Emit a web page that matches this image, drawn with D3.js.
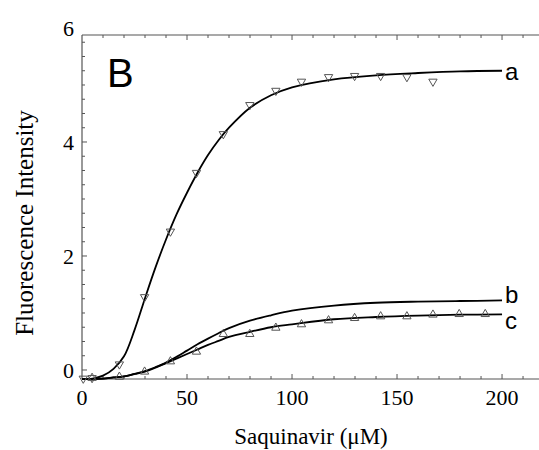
<!DOCTYPE html>
<html>
<head>
	<meta charset="utf-8">
	<script src="https://cdn.jsdelivr.net/npm/d3@7"></script>
	<style>
		body { margin: 0; background: #fff; }
	</style>
</head>
<body>
	<div id="chart"></div>
	<script>
		// measured points (saquinavir uM, fluorescence)
		var aX = [0.6, 4.8, 17.8, 29.8, 42.1, 54.5, 67.3, 79.9, 92.3, 104.5, 117.4, 129.8, 142.2, 154.7, 167.1];
		var aY = [-0.15, -0.14, 0.10, 1.28, 2.43, 3.46, 4.14, 4.65, 4.90, 5.06, 5.14, 5.16, 5.16, 5.14, 5.06];

		var cX = [4.8, 17.8, 29.8, 42.1, 54.5, 67.3, 79.9, 92.3, 104.5, 117.4, 129.8, 142.2, 154.7, 167.1, 179.6, 192.0];
		var cY = [-0.14, -0.12, -0.03, 0.15, 0.32, 0.63, 0.63, 0.74, 0.80, 0.87, 0.91, 0.94, 0.94, 0.97, 0.98, 0.98];

		// fitted curves
		var curveX = [0, 5, 10, 15, 20, 25, 30, 35, 40, 45, 50, 55, 60, 65, 70, 80, 90, 100, 120, 140, 160, 180, 200];
		var curveA = [-0.16, -0.15, -0.10, 0.02, 0.24, 0.70, 1.26, 1.80, 2.29, 2.73, 3.11, 3.46, 3.77, 4.03, 4.25, 4.60, 4.82, 4.96, 5.10, 5.17, 5.21, 5.24, 5.25];
		var curveB = [-0.16, -0.16, -0.15, -0.13, -0.11, -0.07, -0.02, 0.05, 0.13, 0.23, 0.34, 0.45, 0.55, 0.645, 0.735, 0.865, 0.96, 1.04, 1.13, 1.18, 1.20, 1.21, 1.22];
		var curveC = [-0.16, -0.16, -0.15, -0.13, -0.11, -0.07, -0.03, 0.04, 0.12, 0.20, 0.28, 0.36, 0.44, 0.51, 0.58, 0.67, 0.75, 0.80, 0.89, 0.93, 0.955, 0.97, 0.975];

		var curveNames = ["a", "b", "c"];
		var xTicks = [0, 50, 100, 150, 200];
		var yTicks = [0, 2, 4, 6];

		var width = 539, height = 450;

		var x = d3.scaleLinear().domain([0, 217.6]).range([82, 539]);
		var y = d3.scaleLinear().domain([-0.158, 5.877]).range([379, 35]);

		var svg = d3.select("#chart").append("svg")
			.attr("width", width)
			.attr("height", height);

		var axisColor = "#555";

		// frame: left, bottom, top
		svg.append("line").attr("x1", x(0)).attr("x2", x(0)).attr("y1", y.range()[0]).attr("y2", y.range()[1])
			.attr("stroke", axisColor).attr("stroke-width", 1.2);
		svg.append("line").attr("x1", x(0)).attr("x2", width).attr("y1", y.range()[0]).attr("y2", y.range()[0])
			.attr("stroke", axisColor).attr("stroke-width", 1.2);
		svg.append("line").attr("x1", x(0)).attr("x2", width).attr("y1", y.range()[1]).attr("y2", y.range()[1])
			.attr("stroke", axisColor).attr("stroke-width", 1.2);

		// x ticks every 10, inward, on bottom and top
		var xMinor = d3.range(10, 220, 10);
		svg.selectAll(".xtb").data(xMinor).enter().append("line")
			.attr("x1", function(d) { return x(d); }).attr("x2", function(d) { return x(d); })
			.attr("y1", y.range()[0]).attr("y2", function(d) { return y.range()[0] - (d % 50 ? 3 : 5); })
			.attr("stroke", axisColor).attr("stroke-width", 1);
		svg.selectAll(".xtt").data(xMinor).enter().append("line")
			.attr("x1", function(d) { return x(d); }).attr("x2", function(d) { return x(d); })
			.attr("y1", y.range()[1]).attr("y2", function(d) { return y.range()[1] + (d % 50 ? 3 : 5); })
			.attr("stroke", axisColor).attr("stroke-width", 1);

		// y ticks every 0.25
		var yMinor = d3.range(0, 5.9, 0.25);
		svg.selectAll(".yt").data(yMinor).enter().append("line")
			.attr("x1", x(0)).attr("x2", function(d) { return x(0) + (Math.abs(d % 2) < 1e-6 ? 5 : 3); })
			.attr("y1", function(d) { return y(d); }).attr("y2", function(d) { return y(d); })
			.attr("stroke", axisColor).attr("stroke-width", 1);

		var serif = "'Liberation Serif', 'Times New Roman', serif";
		var sans = "'Liberation Sans', Arial, sans-serif";

		svg.selectAll(".xl").data(xTicks).enter().append("text")
			.attr("x", function(d) { return x(d); })
			.attr("y", 405)
			.attr("text-anchor", "middle")
			.style("font-family", serif).style("font-size", "22px")
			.text(function(d) { return d; });

		svg.selectAll(".yl").data(yTicks).enter().append("text")
			.attr("x", 74)
			.attr("y", function(d) { return y(d); })
			.attr("dy", "0.35em")
			.attr("text-anchor", "end")
			.style("font-family", serif).style("font-size", "22px")
			.text(function(d) { return d; });

		svg.append("text")
			.attr("x", 311).attr("y", 444)
			.attr("text-anchor", "middle")
			.style("font-family", serif).style("font-size", "23px")
			.text("Saquinavir (\u03bcM)");

		svg.append("text")
			.attr("transform", "translate(33,223) rotate(-90)")
			.attr("text-anchor", "middle")
			.style("font-family", serif).style("font-size", "25px")
			.text("Fluorescence Intensity");

		svg.append("text")
			.attr("x", 107).attr("y", 87)
			.style("font-family", sans).style("font-size", "40px")
			.text("B");

		// curves
		var line = d3.line()
			.x(function(d) { return x(d[0]); })
			.y(function(d) { return y(d[1]); })
			.curve(d3.curveCatmullRom);

		var curves = [curveA, curveB, curveC];
		curves.forEach(function(vals, i) {
			var pts = curveX.map(function(v, j) { return [v, vals[j]]; });
			svg.append("path")
				.attr("d", line(pts))
				.attr("fill", "none")
				.attr("stroke", "#000")
				.attr("stroke-width", 1.8);
			var last = pts[pts.length - 1];
			svg.append("text")
				.attr("x", x(last[0]) + 3)
				.attr("y", y(last[1]))
				.attr("dy", i == 0 ? "0.38em" : (i == 1 ? "0.1em" : "0.6em"))
				.style("font-family", sans).style("font-size", "24px")
				.text(curveNames[i]);
		});

		// markers
		var tri = d3.symbol().type(d3.symbolTriangle).size(30);

		svg.selectAll(".ma").data(aX.map(function(v, i) { return [v, aY[i]]; })).enter().append("path")
			.attr("d", tri)
			.attr("transform", function(d) { return "translate(" + x(d[0]) + "," + y(d[1]) + ") rotate(180)"; })
			.attr("fill", "none")
			.attr("stroke", "#555")
			.attr("stroke-width", 1);

		svg.selectAll(".mc").data(cX.map(function(v, i) { return [v, cY[i]]; })).enter().append("path")
			.attr("d", tri)
			.attr("transform", function(d) { return "translate(" + x(d[0]) + "," + y(d[1]) + ")"; })
			.attr("fill", "none")
			.attr("stroke", "#555")
			.attr("stroke-width", 1);
	</script>
</body>
</html>
